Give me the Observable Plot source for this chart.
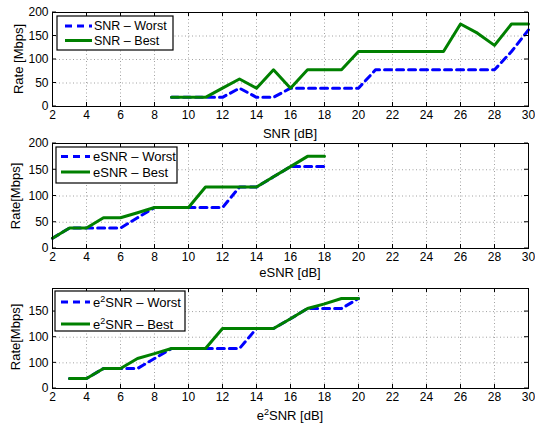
<!DOCTYPE html>
<html><head><meta charset="utf-8">
<script src="https://cdn.jsdelivr.net/npm/d3@7"></script>
<script src="https://cdn.jsdelivr.net/npm/@observablehq/plot@0.6"></script>
<style>
body{margin:0;background:#fff;}
#wrap{position:relative;width:535px;height:426px;background:#fff;font-family:"Liberation Sans",Arial,Helvetica,sans-serif;}
#wrap svg{position:absolute;left:0;}
</style></head><body><div id="wrap"></div>
<script>
// ---- data ----
const xTicks = [2,4,6,8,10,12,14,16,18,20,22,24,26,28,30];
const yTicksA = [0,50,100,150,200];
const yTickLabelsA = ["0","50","100","150","200"];
const yTicksC = [0,50,100,150];
const yTickLabelsC = ["0","100","100","150"];

const snrX     = [9,10,11,12,13,14,15,16,17,18,19,20,21,22,23,24,25,26,27,28,29,30];
const snrWorst = [19.5,19.5,19.5,19.5,39,19.5,19.5,39,39,39,39,39,78,78,78,78,78,78,78,78,117,163];
const snrBest  = [19.5,19.5,19.5,39,58.5,39,78,39,78,78,78,117,117,117,117,117,117,175.5,156,130,175.5,175.5];

const esnrX     = [2,3,4,5,6,7,8,9,10,11,12,13,14,15,16,17,18];
const esnrWorst = [19.5,39,39,39,39,58.5,78,78,78,78,78,117,117,136.5,156,156,156];
const esnrBest  = [19.5,39,39,58.5,58.5,68,78,78,78,117,117,117,117,136.5,156,175.5,175.5];

const e2snrX     = [3,4,5,6,7,8,9,10,11,12,13,14,15,16,17,18,19,20];
const e2snrWorst = [19.5,19.5,39,39,39,58.5,78,78,78,78,78,117,117,136,156,156,156,175.5];
const e2snrBest  = [19.5,19.5,39,39,58.5,68,78,78,78,117,117,117,117,136,156,165,175.5,175.5];

const FONT = '"Liberation Sans",Arial,Helvetica,sans-serif';
const BLUE = "#0000ff", GREEN = "#008000";
const wrap = document.getElementById("wrap");

function panel({top, height, mt, mb, yDomain, yTicks, yLabels, xs, worst, best}) {
  const data = xs.map((x, i) => ({x, worst: worst[i], best: best[i]}));
  const inner = height - mt - mb;
  const tk = 4;
  const p = Plot.plot({
    width: 535, height, marginLeft: 52, marginRight: 7, marginTop: mt, marginBottom: mb,
    style: {fontFamily: FONT, fontSize: "12px", color: "#000", background: "transparent", overflow: "visible"},
    x: {domain: [2, 30], label: null},
    y: {domain: yDomain, label: null},
    marks: [
      Plot.ruleX(xTicks, {x: d => d, stroke: "#8a8a8a", strokeWidth: 0.8, strokeDasharray: "1,2.5"}),
      Plot.ruleY(yTicks, {y: d => d, stroke: "#8a8a8a", strokeWidth: 0.8, strokeDasharray: "1,2.5"}),
      Plot.line(data, {x: "x", y: "worst", stroke: BLUE, strokeWidth: 3, strokeDasharray: "7,5"}),
      Plot.line(data, {x: "x", y: "best", stroke: GREEN, strokeWidth: 3}),
      Plot.ruleX(xTicks, {x: d => d, stroke: "#000", insetTop: inner - tk}),
      Plot.ruleX(xTicks, {x: d => d, stroke: "#000", insetBottom: inner - tk}),
      Plot.axisX(xTicks, {anchor: "bottom", tickSize: 0, tickPadding: 4, fontSize: 12}),
      Plot.axisY(yTicks, {anchor: "left", tickSize: 0, tickPadding: 4, fontSize: 12, tickFormat: (d) => yLabels[yTicks.indexOf(d)]}),
      Plot.frame({stroke: "#000", strokeWidth: 1})
    ]
  });
  p.style.top = top + "px";
  wrap.appendChild(p);
  // y ticks inside on both sides
  const yS = p.scale("y");
  const g = d3.select(p).append("g").attr("stroke", "#000");
  yTicks.forEach(v => {
    const y = yS.apply(v);
    g.append("line").attr("x1", 52).attr("x2", 52 + tk).attr("y1", y).attr("y2", y);
    g.append("line").attr("x1", 528 - tk).attr("x2", 528).attr("y1", y).attr("y2", y);
  });
  return p;
}

panel({top: 0, height: 142, mt: 12, mb: 36, yDomain: [0, 200], yTicks: yTicksA, yLabels: yTickLabelsA, xs: snrX, worst: snrWorst, best: snrBest});
panel({top: 142, height: 140, mt: 1, mb: 34, yDomain: [0, 200], yTicks: yTicksA, yLabels: yTickLabelsA, xs: esnrX, worst: esnrWorst, best: esnrBest});
panel({top: 282, height: 144, mt: 6, mb: 38, yDomain: [0, 195], yTicks: yTicksC, yLabels: yTickLabelsC, xs: e2snrX, worst: e2snrWorst, best: e2snrBest});

// ---- overlay: axis titles and legends ----
const ov = d3.select(wrap).append("svg").attr("width", 535).attr("height", 426)
  .style("top", "0px").style("font-family", FONT).style("font-size", "13px");

function richText(sel, parts) {
  parts.forEach(pt => {
    if (typeof pt === "string") sel.append("tspan").text(pt);
    else sel.append("tspan").attr("baseline-shift", "super").attr("font-size", "9px").text(pt.sup);
  });
}

const yTitles = [
  {x: 18, y: 59, t: "Rate [Mbps]"},
  {x: 15.5, y: 196, t: "Rate[Mbps]"},
  {x: 15.5, y: 337, t: "Rate[Mbps]"}
];
yTitles.forEach(d => {
  ov.append("text").attr("transform", `translate(${d.x},${d.y}) rotate(-90)`)
    .attr("text-anchor", "middle").attr("dy", "0.35em").text(d.t);
});
const xTitles = [
  {y: 133, parts: ["SNR [dB]"]},
  {y: 272.5, parts: ["eSNR [dB]"]},
  {y: 415, parts: ["e", {sup: "2"}, "SNR [dB]"]}
];
xTitles.forEach(d => {
  const t = ov.append("text").attr("x", 290).attr("y", d.y).attr("dy", "0.35em").attr("text-anchor", "middle");
  richText(t, d.parts);
});

const legends = [
  {x: 57, y: 16, w: 116, h: 34, r1: 26, r2: 40.5, lx1: 65, lx2: 92, tx: 94,
   worst: ["SNR – Worst"], best: ["SNR – Best"]},
  {x: 56, y: 147, w: 121, h: 36, r1: 156.5, r2: 172, lx1: 61, lx2: 90, tx: 93,
   worst: ["eSNR – Worst"], best: ["eSNR – Best"]},
  {x: 55, y: 291, w: 130, h: 40, r1: 302, r2: 324, lx1: 61, lx2: 90, tx: 93,
   worst: ["e", {sup: "2"}, "SNR – Worst"], best: ["e", {sup: "2"}, "SNR – Best"]}
];
legends.forEach(L => {
  ov.append("rect").attr("x", L.x).attr("y", L.y).attr("width", L.w).attr("height", L.h)
    .attr("fill", "#fff").attr("stroke", "#000").attr("stroke-width", 1.2);
  ov.append("line").attr("x1", L.lx1).attr("x2", L.lx2).attr("y1", L.r1).attr("y2", L.r1)
    .attr("stroke", BLUE).attr("stroke-width", 3).attr("stroke-dasharray", "7,5");
  ov.append("line").attr("x1", L.lx1).attr("x2", L.lx2).attr("y1", L.r2).attr("y2", L.r2)
    .attr("stroke", GREEN).attr("stroke-width", 3);
  const fs = L.r2 - L.r1 < 15 ? "12.5px" : "13px";
  richText(ov.append("text").attr("x", L.tx).attr("y", L.r1).attr("dy", "0.35em").style("font-size", fs), L.worst);
  richText(ov.append("text").attr("x", L.tx).attr("y", L.r2).attr("dy", "0.35em").style("font-size", fs), L.best);
});
</script></body></html>
